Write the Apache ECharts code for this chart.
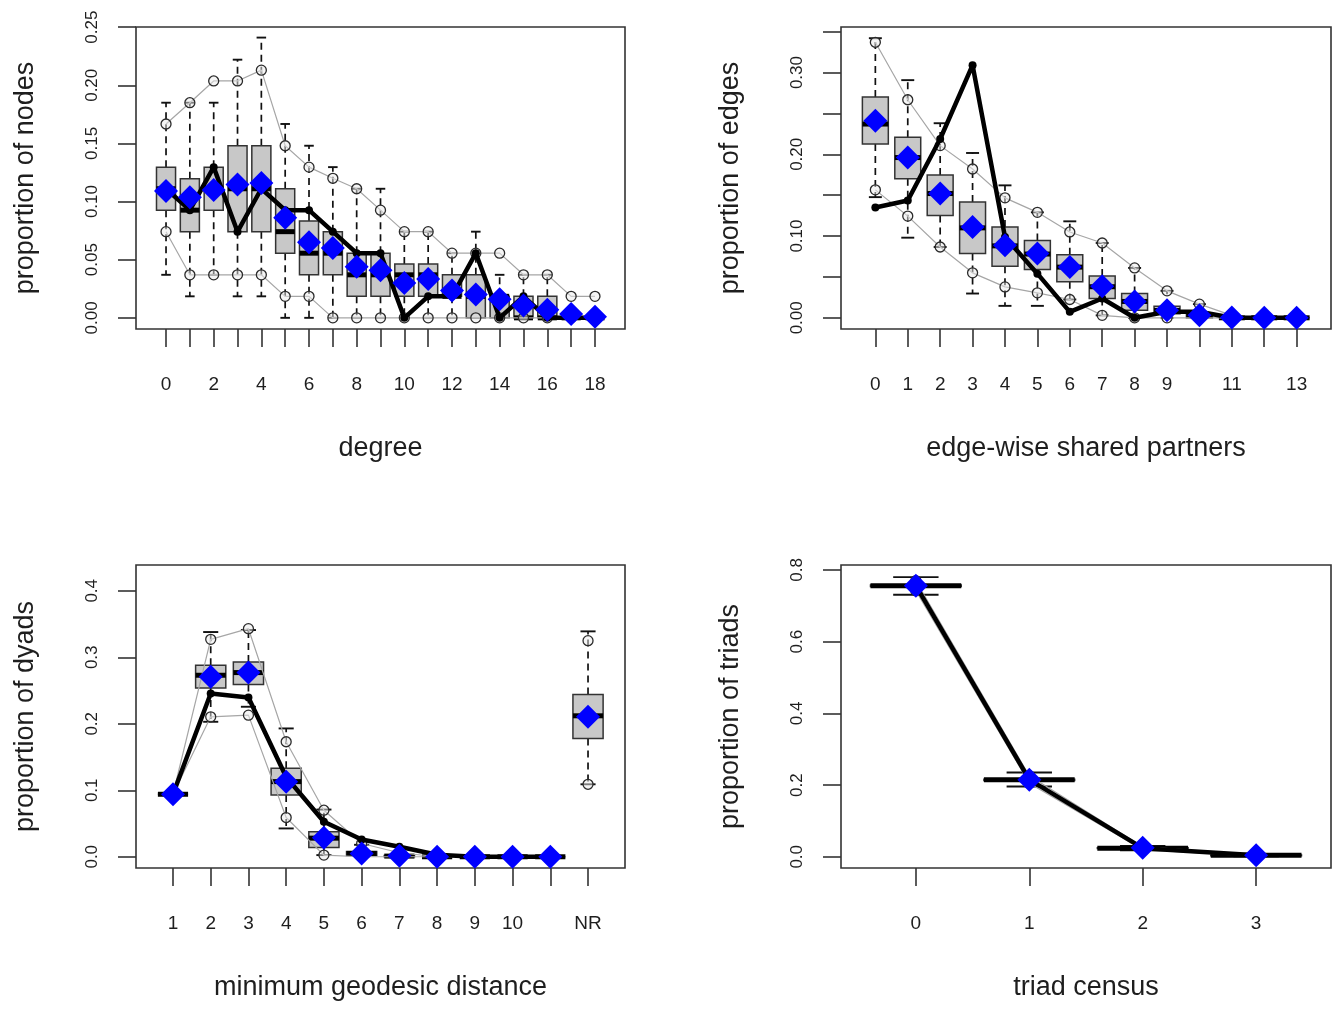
<!DOCTYPE html>
<html>
<head>
<meta charset="utf-8">
<script src="https://cdn.jsdelivr.net/npm/echarts@6/dist/echarts.min.js"></script>
<style>
html,body{margin:0;padding:0;background:#fff;}
#chart{width:1341px;height:1010px;}
</style>
</head>
<body>
<div id="chart"></div>
<script>
// ---------- Panel 1: degree ----------
const degX    = [0,1,2,3,4,5,6,7,8,9,10,11,12,13,14,15,16,17,18];
const degWLo  = [0.037,0.0185,0.037,0.0185,0.0185,0,0,0,0,0,0,0,0,0,0,0,0,0,0];
const degQ1   = [0.0926,0.0741,0.0926,0.0741,0.0741,0.0556,0.037,0.037,0.0185,0.0185,0.0185,0.0185,0.0185,0,0,0,0,0,0];
const degMed  = [0.111,0.0926,0.111,0.111,0.111,0.0741,0.0556,0.0556,0.037,0.037,0.037,0.037,0.0185,0.0185,0.0185,0,0,0,0];
const degQ3   = [0.1296,0.1195,0.1296,0.148,0.148,0.111,0.0833,0.0741,0.0556,0.0556,0.0463,0.0463,0.037,0.037,0.0185,0.0185,0.0185,0,0];
const degWHi  = [0.185,0.185,0.185,0.222,0.241,0.1667,0.148,0.1296,0.111,0.111,0.0741,0.0741,0.0556,0.0741,0.037,0.037,0.037,0,0];
const degCHi  = [0.1667,0.185,0.2037,0.2037,0.213,0.148,0.1296,0.12,0.111,0.0926,0.0741,0.0741,0.0556,0.0556,0.0556,0.037,0.037,0.0185,0.0185];
const degCLo  = [0.0741,0.037,0.037,0.037,0.037,0.0185,0.0185,0,0,0,0,0,0,0,0,0,0,0,0];
const degMean = [0.109,0.1037,0.110,0.1146,0.116,0.086,0.065,0.060,0.044,0.041,0.030,0.0335,0.0235,0.020,0.016,0.0106,0.007,0.0034,0.001];
const degObs  = [0.111,0.0926,0.1296,0.0741,0.111,0.0926,0.0926,0.0741,0.0556,0.0556,0,0.0185,0.0185,0.0556,0,0.0185,0,0,0];
const degXLabelVals = [0,2,4,6,8,10,12,14,16,18];
const degYTicks = [0,0.05,0.10,0.15,0.20,0.25];
const degYLabels = ['0.00','0.05','0.10','0.15','0.20','0.25'];

// ---------- Panel 2: edge-wise shared partners ----------
const espX    = [0,1,2,3,4,5,6,7,8,9,10,11,12,13];
const espWLo  = [0.1476,0.098,0.0866,0.0297,0.0146,0.0146,0.0224,0.003,0,0,0,0,0,0];
const espQ1   = [0.2126,0.170,0.125,0.0785,0.063,0.059,0.044,0.0236,0.0093,0.005,0,0,0,0];
const espMed  = [0.237,0.196,0.152,0.110,0.088,0.078,0.062,0.038,0.020,0.009,0.003,0,0,0];
const espQ3   = [0.270,0.2207,0.1748,0.1415,0.111,0.0947,0.077,0.051,0.0297,0.014,0.005,0,0,0];
const espWHi  = [0.342,0.2907,0.238,0.2016,0.162,0.129,0.118,0.0915,0.061,0.033,0.0167,0,0,0];
const espCHi  = [0.337,0.2667,0.2106,0.182,0.1467,0.129,0.105,0.0915,0.061,0.033,0.0167,0.003,0,0];
const espCLo  = [0.1565,0.1244,0.0866,0.055,0.0378,0.0305,0.0224,0.003,0,0,0,0,0,0];
const espMean = [0.241,0.196,0.152,0.111,0.0886,0.0785,0.062,0.0386,0.020,0.0093,0.003,0.0005,0,0];
const espObs  = [0.135,0.1435,0.2187,0.309,0.0988,0.054,0.0073,0.0236,0,0.0073,0.0073,0,0,0];
const espXLabelVals = [0,1,2,3,4,5,6,7,8,9,11,13];
const espYTicks = [0,0.05,0.10,0.15,0.20,0.25,0.30,0.35];
const espYLabelVals = [0,0.10,0.20,0.30];
const espYLabels = ['0.00','0.10','0.20','0.30'];

// ---------- Panel 3: minimum geodesic distance (position 12 = NR) ----------
const geoX    = [1,2,3,4,5,6,7,8,9,10,11,12];
const geoWLo  = [0.094,0.203,0.2256,0.0426,0.0025,0,0,0,0,0,0,0.109];
const geoQ1   = [0.094,0.254,0.259,0.093,0.014,0.002,0,0,0,0,0,0.178];
const geoMed  = [0.094,0.273,0.277,0.113,0.028,0.005,0.001,0,0,0,0,0.212];
const geoQ3   = [0.094,0.288,0.293,0.133,0.0376,0.008,0.002,0,0,0,0,0.244];
const geoWHi  = [0.094,0.338,0.341,0.193,0.071,0.018,0.006,0,0,0,0,0.339];
const geoCHi  = [0.094,0.327,0.343,0.173,0.070,0.020,0.006,0,0,0,0,0.325];
const geoCLo  = [0.094,0.2105,0.213,0.059,0.0025,0,0,0,0,0,0,0.109];
const geoMean = [0.094,0.2707,0.277,0.113,0.0286,0.005,0.0015,0,0,0,0,0.2105];
const geoObs  = [0.094,0.2456,0.2396,0.12,0.0526,0.026,0.015,0.003,0,0,0];
const geoXLabelVals = [1,2,3,4,5,6,7,8,9,10,12];
const geoXLabels = ['1','2','3','4','5','6','7','8','9','10','NR'];
const geoYTicks = [0,0.1,0.2,0.3,0.4];
const geoYLabels = ['0.0','0.1','0.2','0.3','0.4'];

// ---------- Panel 4: triad census ----------
const triX    = [0,1,2,3];
const triWLo  = [0.731,0.196,0.018,0.001];
const triQ1   = [0.754,0.213,0.023,0.003];
const triMed  = [0.756,0.2147,0.024,0.004];
const triQ3   = [0.758,0.216,0.025,0.005];
const triWHi  = [0.780,0.235,0.030,0.007];
const triCHi  = [0.770,0.226,0.028,0.006];
const triCLo  = [0.742,0.205,0.020,0.002];
const triMean = [0.756,0.2147,0.025,0.004];
const triObs  = [0.756,0.215,0.024,0.004];
const triXLabelVals = [0,1,2,3];
const triYTicks = [0,0.2,0.4,0.6,0.8];
const triYLabels = ['0.0','0.2','0.4','0.6','0.8'];

// ---------- helpers ----------
const FONT = '"Liberation Sans", Arial, Helvetica, sans-serif';
const TXT = '#1e1e1e';

function lookup(vals, texts) {
  return function (v) {
    for (let i = 0; i < vals.length; i++) if (Math.abs(vals[i] - v) < 1e-9) return texts[i];
    return '';
  };
}
function zip(xs, ys) { return xs.map((x, i) => [x, ys[i]]); }

function boxRender(params, api) {
  const x = api.value(0);
  const pLo = api.coord([x, api.value(1)]);
  const pQ1 = api.coord([x, api.value(2)]);
  const pMed = api.coord([x, api.value(3)]);
  const pQ3 = api.coord([x, api.value(4)]);
  const pHi = api.coord([x, api.value(5)]);
  const hw = api.size([0.4, 0])[0];
  const sw = api.size([0.2, 0])[0];
  const cx = pMed[0];
  const dash = { stroke: '#111', lineWidth: 1.7, lineDash: [7, 5] };
  const solid = { stroke: '#111', lineWidth: 1.9 };
  return {
    type: 'group',
    children: [
      { type: 'line', shape: { x1: cx, y1: pQ3[1], x2: cx, y2: pHi[1] }, style: dash },
      { type: 'line', shape: { x1: cx, y1: pQ1[1], x2: cx, y2: pLo[1] }, style: dash },
      { type: 'line', shape: { x1: cx - sw, y1: pHi[1], x2: cx + sw, y2: pHi[1] }, style: solid },
      { type: 'line', shape: { x1: cx - sw, y1: pLo[1], x2: cx + sw, y2: pLo[1] }, style: solid },
      { type: 'rect', shape: { x: cx - hw, y: pQ3[1], width: 2 * hw, height: Math.max(pQ1[1] - pQ3[1], 0) },
        style: { fill: '#c8c8c8', stroke: '#333', lineWidth: 1.5 } },
      { type: 'line', shape: { x1: cx - hw, y1: pMed[1], x2: cx + hw, y2: pMed[1] }, style: { stroke: '#000', lineWidth: 5 } }
    ]
  };
}

const grids = [
  { left: 136, top: 27, width: 489, height: 302 },
  { left: 841, top: 27, width: 490, height: 302 },
  { left: 136, top: 565, width: 489, height: 303 },
  { left: 841, top: 565, width: 490, height: 303 }
].map(g => Object.assign({ show: true, borderColor: '#333', borderWidth: 1.6, backgroundColor: 'transparent',
  containLabel: false, outerBoundsMode: 'none' }, g));

function xAxis(idx, min, max, ticks, labelVals, labelFmt, name) {
  return {
    type: 'value', gridIndex: idx, min: min, max: max, position: 'bottom',
    axisLine: { show: false, onZero: false },
    splitLine: { show: false },
    axisTick: { show: true, inside: false, length: 18, customValues: ticks, lineStyle: { color: '#333', width: 1.6 } },
    axisLabel: { show: true, customValues: labelVals, formatter: labelFmt, margin: 46,
      fontSize: 19, fontFamily: FONT, color: TXT },
    name: name, nameLocation: 'middle', nameGap: 106,
    nameTextStyle: { fontSize: 27, fontFamily: FONT, color: TXT }
  };
}
function yAxis(idx, min, max, ticks, labelVals, labelFmt, name) {
  return {
    type: 'value', gridIndex: idx, min: min, max: max, position: 'left',
    axisLine: { show: false, onZero: false },
    splitLine: { show: false },
    axisTick: { show: true, inside: false, length: 18, customValues: ticks, lineStyle: { color: '#333', width: 1.6 } },
    axisLabel: { show: true, customValues: labelVals, formatter: labelFmt, margin: 35, rotate: 90,
      fontSize: 17, fontFamily: FONT, color: TXT },
    name: name, nameLocation: 'middle', nameGap: 97,
    nameTextStyle: { fontSize: 27, fontFamily: FONT, color: TXT }
  };
}

function panelSeries(idx, xs, wlo, q1, med, q3, whi, chi, clo, mean, obsXs, obs, lineCount) {
  const n = lineCount;
  const grayLine = (vals, from, to) => ({
    type: 'line', xAxisIndex: idx, yAxisIndex: idx, silent: true, animation: false, z: 3,
    data: zip(xs.slice(from, to), vals.slice(from, to)),
    symbol: 'circle', symbolSize: 10, showSymbol: true, showAllSymbol: true,
    lineStyle: { color: '#a6a6a6', width: 1.2 },
    itemStyle: { color: 'rgba(235,235,235,0.5)', borderColor: '#2a2a2a', borderWidth: 1.3, opacity: 1 }
  });
  const s = [
    { type: 'custom', xAxisIndex: idx, yAxisIndex: idx, silent: true, animation: false, z: 2,
      renderItem: boxRender, encode: { x: 0, y: [1, 2, 3, 4, 5] },
      data: xs.map((x, i) => [x, wlo[i], q1[i], med[i], q3[i], whi[i]]) },
    grayLine(chi, 0, n),
    grayLine(clo, 0, n)
  ];
  if (n < xs.length) {
    s.push(Object.assign(grayLine(chi, n, xs.length), { type: 'scatter' }));
    s.push(Object.assign(grayLine(clo, n, xs.length), { type: 'scatter' }));
  }
  s.push({
    type: 'line', xAxisIndex: idx, yAxisIndex: idx, silent: true, animation: false, z: 4,
    data: zip(obsXs, obs), symbol: 'circle', symbolSize: 8, showAllSymbol: true,
    lineStyle: { color: '#000', width: 4.5 }, itemStyle: { color: '#000', opacity: 1 }
  });
  s.push({
    type: 'scatter', xAxisIndex: idx, yAxisIndex: idx, silent: true, animation: false, z: 6,
    data: zip(xs, mean), symbol: 'diamond', symbolSize: 24, itemStyle: { color: '#0000ff', opacity: 1 }
  });
  return s;
}

const chart = echarts.init(document.getElementById('chart'), null, { renderer: 'canvas' });
chart.setOption({
  backgroundColor: '#ffffff',
  animation: false,
  grid: grids,
  xAxis: [
    xAxis(0, -1.26, 19.26, degX, degXLabelVals, v => String(v), 'degree'),
    xAxis(1, -1.06, 14.06, espX, espXLabelVals, v => String(v), 'edge-wise shared partners'),
    xAxis(2, 0.02, 12.98, geoX, geoXLabelVals, lookup(geoXLabelVals, geoXLabels), 'minimum geodesic distance'),
    xAxis(3, -0.66, 3.66, triX, triXLabelVals, v => String(v), 'triad census')
  ],
  yAxis: [
    yAxis(0, -0.0096, 0.2501, degYTicks, degYTicks, lookup(degYTicks, degYLabels), 'proportion of nodes'),
    yAxis(1, -0.0137, 0.3557, espYTicks, espYLabelVals, lookup(espYLabelVals, espYLabels), 'proportion of edges'),
    yAxis(2, -0.0169, 0.4388, geoYTicks, geoYTicks, lookup(geoYTicks, geoYLabels), 'proportion of dyads'),
    yAxis(3, -0.0313, 0.8138, triYTicks, triYTicks, lookup(triYTicks, triYLabels), 'proportion of triads')
  ],
  series: [].concat(
    panelSeries(0, degX, degWLo, degQ1, degMed, degQ3, degWHi, degCHi, degCLo, degMean, degX, degObs, degX.length),
    panelSeries(1, espX, espWLo, espQ1, espMed, espQ3, espWHi, espCHi, espCLo, espMean, espX, espObs, espX.length),
    panelSeries(2, geoX, geoWLo, geoQ1, geoMed, geoQ3, geoWHi, geoCHi, geoCLo, geoMean, geoX.slice(0, geoObs.length), geoObs, 11),
    panelSeries(3, triX, triWLo, triQ1, triMed, triQ3, triWHi, triCHi, triCLo, triMean, triX, triObs, triX.length)
  )
});
</script>
</body>
</html>
